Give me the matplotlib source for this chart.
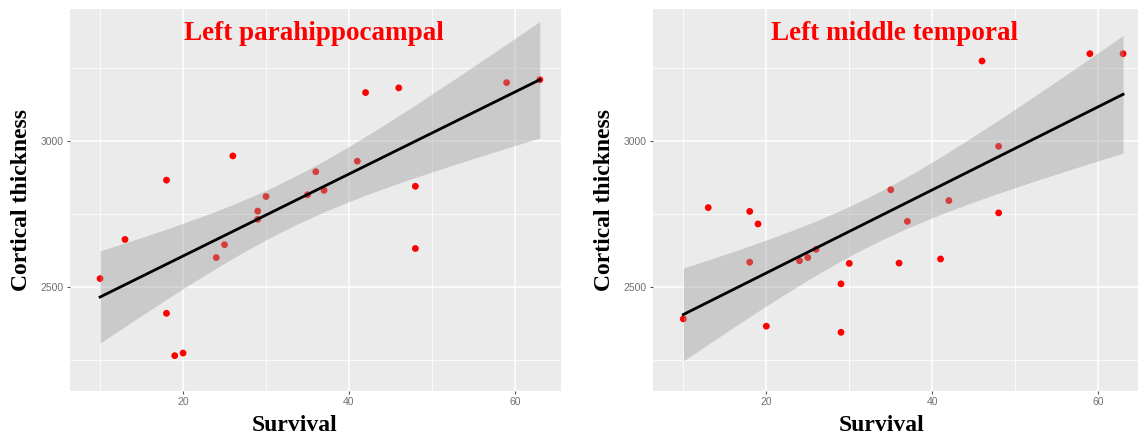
"""Scatter plots of survival against regional cortical thickness with a linear fit and 95% CI."""

import numpy as np
import matplotlib
matplotlib.use("Agg")
import matplotlib.pyplot as plt
from matplotlib.ticker import FixedLocator

# Data
survival = [10, 13, 18, 18, 19, 20, 24, 25, 26, 29, 29, 30,
            35, 36, 37, 41, 42, 46, 48, 48, 59, 63]
parahippocampal = [2528, 2662, 2865, 2409, 2264, 2273, 2600, 2644, 2948, 2759, 2731, 2809,
                   2815, 2894, 2830, 2930, 3165, 3181, 2844, 2631, 3199, 3209]
middle_temporal = [2390, 2771, 2758, 2584, 2715, 2365, 2589, 2600, 2628, 2510, 2344, 2580,
                   2832, 2581, 2724, 2595, 2795, 3273, 2981, 2753, 3298, 3298]
titles = ["Left parahippocampal", "Left middle temporal"]

T_CRIT = 2.086  # t(0.975, df=20)
SERIF = ["Liberation Serif", "DejaVu Serif"]


def linear_fit_ci(x, y, n_grid=80):
    """Return grid, fitted values and 95% confidence band for an OLS line."""
    x = np.asarray(x, float)
    y = np.asarray(y, float)
    n = len(x)
    slope, intercept = np.polyfit(x, y, 1)
    resid = y - (slope * x + intercept)
    s = np.sqrt(np.sum(resid ** 2) / (n - 2))
    xg = np.linspace(x.min(), x.max(), n_grid)
    yg = slope * xg + intercept
    se = s * np.sqrt(1 / n + (xg - x.mean()) ** 2 / np.sum((x - x.mean()) ** 2))
    return xg, yg, yg - T_CRIT * se, yg + T_CRIT * se


def draw_panel(ax, x, y, title, xlim, xlabel_x):
    ax.set_facecolor("#EBEBEB")
    for sp in ax.spines.values():
        sp.set_visible(False)

    ax.xaxis.set_major_locator(FixedLocator([20, 40, 60]))
    ax.xaxis.set_minor_locator(FixedLocator([10, 30, 50]))
    ax.yaxis.set_major_locator(FixedLocator([2500, 3000]))
    ax.yaxis.set_minor_locator(FixedLocator([2250, 2750, 3250]))
    ax.grid(which="major", color="white", lw=1.1)
    ax.grid(which="minor", color="white", lw=0.55)
    ax.set_axisbelow(True)

    ax.scatter(x, y, s=24, color="#FF0000", edgecolor="none", zorder=2)

    xg, yg, lo, hi = linear_fit_ci(x, y)
    ax.fill_between(xg, lo, hi, color="#999999", alpha=0.4, lw=0, zorder=3)
    ax.plot(xg, yg, color="black", lw=2.0, zorder=4)

    ax.set_xlim(*xlim)
    ax.set_ylim(2143, 3451)

    ax.tick_params(which="major", length=2.5, width=0.8, color="#555555",
                   labelsize=7.5, labelcolor="#707070", pad=2)
    ax.tick_params(which="minor", length=0)
    for lab in ax.get_xticklabels() + ax.get_yticklabels():
        lab.set_family(["Liberation Sans", "DejaVu Sans"])

    ax.set_xlabel("Survival", family=SERIF, fontweight="bold", fontsize=17)
    ax.xaxis.set_label_coords(xlabel_x, -0.063, transform=ax.transAxes)
    ax.xaxis.label.set_va("top")
    ax.set_ylabel("Cortical thickness", family=SERIF, fontweight="bold", fontsize=17, labelpad=6)
    ax.text(0.497, 0.935, title, transform=ax.transAxes, ha="center", va="center",
            family=SERIF, fontweight="bold", fontsize=19.5, color="#FF0000", zorder=5)


def main() -> None:
    fig = plt.figure(figsize=(11.38, 4.38), dpi=100)
    ax1 = fig.add_axes([0.0615, 0.1073, 0.4315, 0.8721])
    ax2 = fig.add_axes([0.5738, 0.1073, 0.4262, 0.8721])

    draw_panel(ax1, survival, parahippocampal, titles[0], (6.37, 65.56), 0.458)
    draw_panel(ax2, survival, middle_temporal, titles[1], (6.34, 64.8), 0.472)

    fig.savefig("out.png", dpi=100)
    plt.close(fig)


if __name__ == "__main__":
    main()
